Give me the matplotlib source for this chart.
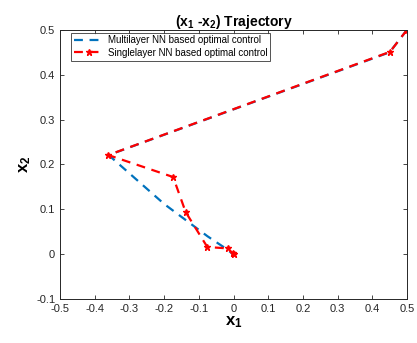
import matplotlib

matplotlib.use("Agg")
import matplotlib.pyplot as plt

plt.rcParams["font.family"] = ["Liberation Sans", "DejaVu Sans"]
plt.rcParams["mathtext.fontset"] = "custom"
plt.rcParams["mathtext.rm"] = "Liberation Sans"
plt.rcParams["mathtext.bf"] = "Liberation Sans:bold"
plt.rcParams["mathtext.it"] = "Liberation Sans:italic"

# trajectory of the multilayer NN controller
multi_x1 = [0.5, 0.45, -0.36, -0.20, -0.075, -0.017, -0.002]
multi_x2 = [0.5, 0.45, 0.221, 0.112, 0.040, 0.010, 0.0]

# trajectory of the singlelayer NN controller
single_x1 = [0.5, 0.451, -0.361, -0.174, -0.138, -0.0755, -0.017, -0.002, 0.0]
single_x2 = [0.5, 0.451, 0.221, 0.172, 0.094, 0.016, 0.013, 0.002, 0.0]

xticks = [-0.5, -0.4, -0.3, -0.2, -0.1, 0, 0.1, 0.2, 0.3, 0.4, 0.5]
yticks = [-0.1, 0, 0.1, 0.2, 0.3, 0.4, 0.5]

fig = plt.figure(figsize=(4.17, 3.43), dpi=100)
ax = fig.add_axes([0.144, 0.128, 0.832, 0.785])

ax.plot(multi_x1, multi_x2, color="#0072BD", linestyle=(0, (4, 3)), linewidth=1.6,
        label="Multilayer NN based optimal control")
ax.plot(single_x1, single_x2, color="#FF0000", linestyle=(0, (4, 3)), linewidth=1.6,
        marker="*", markersize=4.5, label="Singlelayer NN based optimal control")

ax.set_xlim(-0.5, 0.5)
ax.set_ylim(-0.1, 0.5)
ax.set_xticks(xticks)
ax.set_yticks(yticks)
ax.set_xticklabels([f"{t:g}" for t in xticks])
ax.set_yticklabels([f"{t:g}" for t in yticks])
ax.tick_params(direction="in", top=True, right=True, labelsize=8, colors="#262626",
               length=3, width=0.6)
for s in ax.spines.values():
    s.set_linewidth(0.7)
    s.set_color("#262626")

ax.set_xlabel(r"$\mathbf{x_1}$", fontsize=12, labelpad=0)
ax.set_ylabel(r"$\mathbf{x_2}$", fontsize=12, labelpad=2)
ax.set_title(r"($\mathbf{x_1}$ -$\mathbf{x_2}$) Trajectory", fontsize=10, fontweight="bold", pad=3)

leg = ax.legend(loc="upper left", bbox_to_anchor=(0.031, 0.99), fontsize=7, frameon=True,
                fancybox=False, edgecolor="#262626", handlelength=3.2, borderpad=0.3,
                labelspacing=0.25, borderaxespad=0, handletextpad=0.3)
leg.get_frame().set_linewidth(0.7)

fig.savefig("out.png", dpi=100)
